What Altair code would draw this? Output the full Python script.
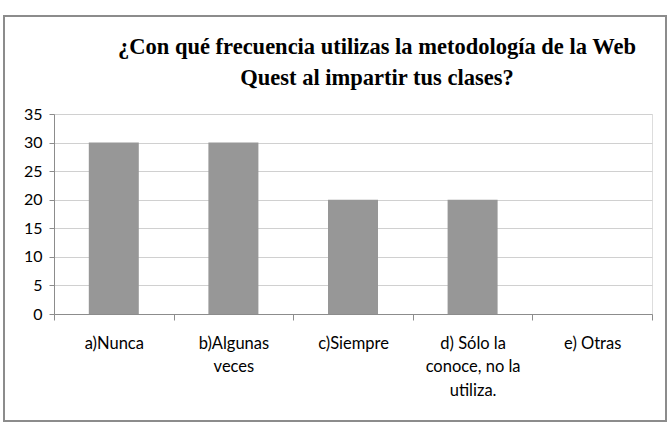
import altair as alt
import pandas as pd

categories = ["a)Nunca", "b)Algunas veces", "c)Siempre",
              "d) Sólo la conoce, no la utiliza.", "e) Otras"]
values = [30, 30, 20, 20, 0]
label_lines = [["a)Nunca"], ["b)Algunas", "veces"], ["c)Siempre"],
               ["d) Sólo la", "conoce, no la", "utiliza."], ["e) Otras"]]
title_lines = ["¿Con qué frecuencia utilizas la metodología de la Web",
               "Quest al impartir tus clases?"]
y_ticks = [0, 5, 10, 15, 20, 25, 30, 35]

df = pd.DataFrame({"cat": categories, "val": values})

def js_arr(lines):
    return "[" + ",".join("'" + s.replace("'", "\\'") + "'" for s in lines) + "]"

expr = "datum.label"
for c, lines in zip(categories, label_lines):
    expr = f"datum.label == '{c}' ? {js_arr(lines)} : ({expr})"

frame = alt.Chart(pd.DataFrame({"a": [0]})).mark_rect(
    fill=None, stroke="#8c8c8c", strokeWidth=2
).encode(
    x=alt.value(-50), x2=alt.value(612), y=alt.value(-98), y2=alt.value(307)
)

title = alt.Chart(pd.DataFrame({"t": [title_lines]})).mark_text(
    font="Liberation Serif", fontSize=22.5, fontWeight="bold", color="black",
    align="center", baseline="alphabetic", lineHeight=31
).encode(text="t:N", x=alt.value(323), y=alt.value(-60))

bars = alt.Chart(df).mark_bar(color="#979797", size=50).encode(
    x=alt.X("cat:N", sort=categories, title=None,
            scale=alt.Scale(paddingInner=0, paddingOuter=0),
            axis=alt.Axis(labelExpr=expr, labelAngle=0, tickBand="extent",
                          tickSize=6, tickColor="#8c8c8c", domainColor="#8c8c8c",
                          labelFont="Lato", labelFontSize=16.5, labelColor="black",
                          labelPadding=15, labelLineHeight=23.5, labelLimit=200)),
    y=alt.Y("val:Q", title=None,
            scale=alt.Scale(domain=[0, 35], nice=False),
            axis=alt.Axis(values=y_ticks, tickSize=5, tickColor="#8c8c8c",
                          domainColor="#8c8c8c", gridColor="#d0d0d0",
                          labelFont="Lato", labelFontSize=16, labelColor="black",
                          labelPadding=7)),
)

chart = alt.layer(frame, title, bars).properties(
    width=598, height=200,
    autosize=alt.AutoSizeParams(type="none"),
    padding={"left": 54, "top": 114, "right": 20, "bottom": 110},
).configure_view(stroke=None).configure(background="white")

chart.save("out.html", embed_options={"renderer": "svg", "actions": False})
